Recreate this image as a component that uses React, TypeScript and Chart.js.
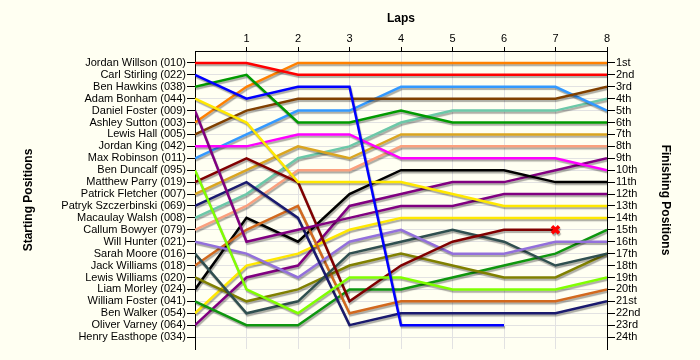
import React, { useEffect, useRef } from 'react';
import { Chart, registerables } from 'chart.js';

Chart.register(...registerables);

const laps = [0, 1, 2, 3, 4, 5, 6, 7, 8];
const lapTicks = [1, 2, 3, 4, 5, 6, 7, 8];
const rowTicks = [1, 2, 3, 4, 5, 6, 7, 8, 9, 10, 11, 12, 13, 14, 15, 16, 17, 18, 19, 20, 21, 22, 23, 24];

const startingNames = [
  'Jordan Willson (010)', 'Carl Stirling (022)', 'Ben Hawkins (038)', 'Adam Bonham (044)',
  'Daniel Foster (009)', 'Ashley Sutton (003)', 'Lewis Hall (005)', 'Jordan King (042)',
  'Max Robinson (011)', 'Ben Duncalf (095)', 'Matthew Parry (019)', 'Patrick Fletcher (007)',
  'Patryk Szczerbinski (069)', 'Macaulay Walsh (008)', 'Callum Bowyer (079)', 'Will Hunter (021)',
  'Sarah Moore (016)', 'Jack Williams (018)', 'Lewis Williams (020)', 'Liam Morley (024)',
  'William Foster (041)', 'Ben Walker (054)', 'Oliver Varney (064)', 'Henry Easthope (034)',
];

const finishLabels = [
  '1st', '2nd', '3rd', '4th', '5th', '6th', '7th', '8th', '9th', '10th', '11th', '12th',
  '13th', '14th', '15th', '16th', '17th', '18th', '19th', '20th', '21st', '22nd', '23rd', '24th',
];

// positions per lap (lap 0 .. lap 8)
const jordanWillson = [1, 1, 2, 2, 2, 2, 2, 2, 2];
const carlStirling = [2, 4, 3, 3, 23, 23, 23, null, null];
const benHawkins = [3, 2, 6, 6, 5, 6, 6, 6, 6];
const adamBonham = [4, 6, 11, 11, 11, 12, 13, 13, 13];
const danielFoster = [5, 16, 15, 14, 13, 13, 12, 12, 12];
const ashleySutton = [6, 3, 1, 1, 1, 1, 1, 1, 1];
const lewisHall = [7, 5, 4, 4, 4, 4, 4, 4, 3];
const jordanKing = [8, 8, 7, 7, 9, 9, 9, 9, 10];
const maxRobinson = [9, 7, 5, 5, 3, 3, 3, 3, 5];
const benDuncalf = [10, 20, 22, 19, 19, 20, 20, 20, 19];
const matthewParry = [11, 9, 11, 21, 18, 16, 15, 15, null];
const patrickFletcher = [12, 10, 8, 9, 7, 7, 7, 7, 7];
const patrykSzczerbinski = [13, 11, 14, 23, 22, 22, 22, 22, 21];
const macaulayWalsh = [14, 12, 9, 8, 6, 5, 5, 5, 4];
const callumBowyer = [15, 13, 10, 10, 8, 8, 8, 8, 8];
const willHunter = [16, 17, 19, 16, 15, 17, 17, 16, 16];
const sarahMoore = [17, 22, 21, 17, 16, 15, 16, 18, 17];
const jackWilliams = [18, 15, 13, 22, 21, 21, 21, 21, 20];
const lewisWilliams = [19, 21, 20, 18, 17, 18, 19, 19, 17];
const liamMorley = [20, 14, 16, 12, 10, 10, 10, 11, 11];
const williamFoster = [21, 23, 23, 20, 20, 19, 18, 17, 15];
const benWalker = [22, 18, 17, 15, 14, 14, 14, 14, 14];
const oliverVarney = [23, 19, 18, 13, 12, 11, 11, 10, 9];

const seriesPositions = [
  jordanWillson, carlStirling, benHawkins, adamBonham, danielFoster, ashleySutton, lewisHall,
  jordanKing, maxRobinson, benDuncalf, matthewParry, patrickFletcher, patrykSzczerbinski,
  macaulayWalsh, callumBowyer, willHunter, sarahMoore, jackWilliams, lewisWilliams, liamMorley,
  williamFoster, benWalker, oliverVarney,
];

const seriesColors = [
  '#FF0000', '#0000FF', '#009A00', '#FFE800', '#800080', '#FF8000', '#804000',
  '#FF00FF', '#3399FF', '#80FF00', '#800000', '#DAA520', '#1A1A6E',
  '#6CC8A8', '#FAA07E', '#9370DB', '#2F4F4F', '#D2691E', '#808000', '#000000',
  '#0E960E', '#FFE800', '#800080',
];

const retiredLap = [7];
const retiredPosition = [15];

const FONT = "'Liberation Sans', Arial, sans-serif";
const BG = '#FFFFF2';
const GRID = '#E2E2E2';

const shadowPlugin = {
  id: 'lineShadow',
  beforeDatasetDraw(chart: any) {
    const ctx = chart.ctx;
    ctx.save();
    ctx.shadowColor = 'rgba(0,0,0,0.33)';
    ctx.shadowOffsetX = 1;
    ctx.shadowOffsetY = 2;
    ctx.shadowBlur = 1;
  },
  afterDatasetDraw(chart: any) {
    chart.ctx.restore();
  },
};

const bgPlugin = {
  id: 'bgFill',
  beforeDraw(chart: any) {
    const ctx = chart.ctx;
    ctx.save();
    ctx.fillStyle = BG;
    ctx.fillRect(0, 0, chart.width, chart.height);
    ctx.restore();
  },
};

export default function App() {
  const ref = useRef<HTMLCanvasElement | null>(null);

  useEffect(() => {
    if (!ref.current) return;
    const datasets: any[] = [];
    datasets.push({
      label: 'Retired',
      data: retiredLap.map((l, i) => ({ x: l, y: retiredPosition[i] })),
      showLine: false,
      pointStyle: 'crossRot',
      pointRadius: 5,
      pointBorderWidth: 3.5,
      borderColor: '#FF0000',
      backgroundColor: '#FF0000',
    });
    seriesPositions.forEach((pos, i) => {
      datasets.push({
        label: startingNames[i],
        data: laps.map((l, j) => ({ x: l, y: pos[j] })),
        borderColor: seriesColors[i],
        backgroundColor: seriesColors[i],
        borderWidth: 2.5,
        pointRadius: 0,
        tension: 0,
        spanGaps: false,
        fill: false,
      });
    });

    const yTickSetter = (scale: any) => {
      scale.ticks = rowTicks.map((v) => ({ value: v }));
    };

    const chart = new Chart(ref.current, {
      type: 'line',
      data: { datasets },
      plugins: [bgPlugin, shadowPlugin],
      options: {
        animation: false,
        responsive: false,
        maintainAspectRatio: false,
        devicePixelRatio: 1,
        layout: { padding: { left: 0, right: 0, top: 0, bottom: 11 } },
        plugins: { legend: { display: false }, tooltip: { enabled: false } },
        scales: {
          x: {
            type: 'linear',
            position: 'top',
            min: 0,
            max: 8,
            afterBuildTicks: (scale: any) => {
              scale.ticks = lapTicks.map((v) => ({ value: v }));
            },
            afterFit: (scale: any) => {
              scale.height = 51;
            },
            grid: { color: GRID, tickColor: '#000', tickLength: 4, drawOnChartArea: true },
            border: { color: '#000', width: 1 },
            ticks: { color: '#000', font: { family: FONT, size: 11 }, padding: 1, maxRotation: 0, autoSkip: false },
            title: { display: true, text: 'Laps', color: '#000', font: { family: FONT, size: 12, weight: 'bold' }, padding: { top: 11, bottom: 0 } },
          },
          y: {
            type: 'linear',
            position: 'left',
            min: 0,
            max: 25,
            reverse: true,
            afterBuildTicks: yTickSetter,
            afterFit: (scale: any) => {
              scale.width = 195;
            },
            grid: { color: GRID, tickColor: '#000', tickLength: 8, drawOnChartArea: true },
            border: { color: '#000', width: 1 },
            ticks: {
              autoSkip: false,
              color: '#000',
              padding: 1,
              font: { family: FONT, size: 11 },
              callback: (v: any) => startingNames[Number(v) - 1] ?? '',
            },
            title: { display: true, text: 'Starting Positions', color: '#000', font: { family: FONT, size: 12, weight: 'bold' }, padding: { top: 21, bottom: 0 } },
          },
          y2: {
            type: 'linear',
            position: 'right',
            min: 0,
            max: 25,
            reverse: true,
            afterBuildTicks: yTickSetter,
            afterFit: (scale: any) => {
              scale.width = 93;
            },
            grid: { color: GRID, tickColor: '#000', tickLength: 8, drawOnChartArea: false },
            border: { color: '#000', width: 1 },
            ticks: {
              autoSkip: false,
              color: '#000',
              padding: 1,
              font: { family: FONT, size: 11 },
              callback: (v: any) => finishLabels[Number(v) - 1] ?? '',
            },
            title: { display: true, text: 'Finishing Positions', color: '#000', font: { family: FONT, size: 12, weight: 'bold' }, padding: { top: 27, bottom: 0 } },
          },
        },
      } as any,
    });
    return () => chart.destroy();
  }, []);

  return (
    <div style={{ position: 'absolute', left: 0, top: 0, width: 700, height: 360, background: BG }}>
      <canvas ref={ref} width={700} height={360} style={{ display: 'block', width: 700, height: 360 }} />
    </div>
  );
}
